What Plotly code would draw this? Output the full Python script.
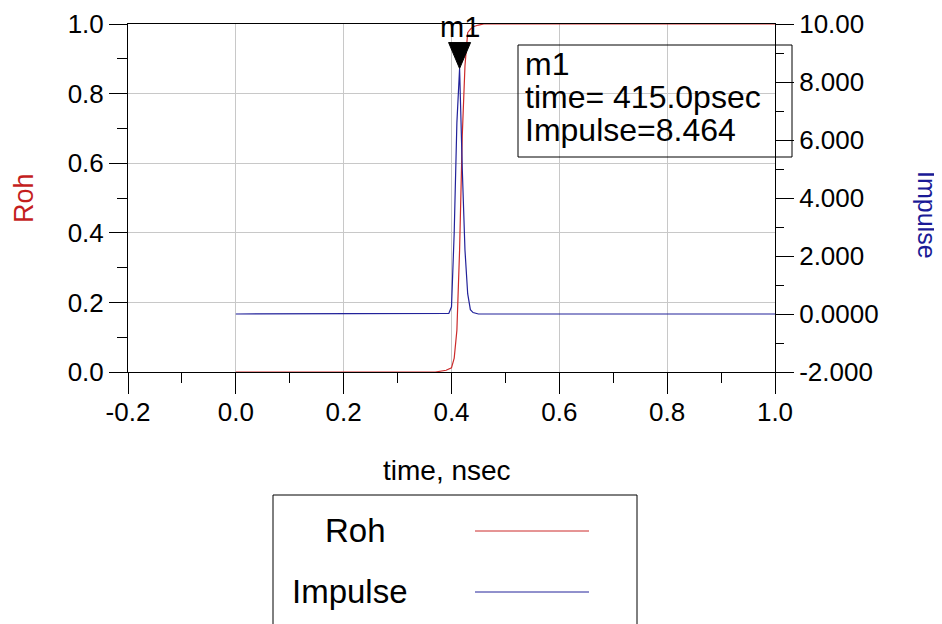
import plotly.graph_objects as go

# ---- data ----
roh_time_ns = [0.000, 0.370, 0.390, 0.400, 0.405, 0.410, 0.415, 0.420, 0.425, 0.430, 0.435, 0.440, 0.450, 0.460, 1.000]
roh_values = [0.000, 0.000, 0.005, 0.012, 0.040, 0.120, 0.350, 0.680, 0.880, 0.975, 0.985, 0.992, 0.997, 1.000, 1.000]

imp_time_ns = [0.000, 0.395, 0.400, 0.405, 0.410, 0.415, 0.420, 0.425, 0.430, 0.435, 0.440, 0.450, 1.000]
imp_values = [0.000, 0.020, 0.250, 2.800, 6.600, 8.464, 5.000, 2.200, 0.700, 0.150, 0.050, 0.000, 0.000]

marker_time_ns = 0.415
marker_impulse = 8.464

x_ticks = [-0.2, 0.0, 0.2, 0.4, 0.6, 0.8, 1.0]
x_tick_text = ["-0.2", "0.0", "0.2", "0.4", "0.6", "0.8", "1.0"]
y_ticks = [0.0, 0.2, 0.4, 0.6, 0.8, 1.0]
y_tick_text = ["0.0", "0.2", "0.4", "0.6", "0.8", "1.0"]
y2_ticks = [-2, 0, 2, 4, 6, 8, 10]
y2_tick_text = ["-2.000", "0.0000", "2.000", "4.000", "6.000", "8.000", "10.00"]

RED = "#cc2a2a"
BLUE = "#22229a"
FONT = "Liberation Sans, Arial, sans-serif"

fig = go.Figure()
fig.add_trace(go.Scatter(x=roh_time_ns, y=roh_values, mode="lines", name="Roh",
                         line=dict(color=RED, width=1.2), yaxis="y"))
fig.add_trace(go.Scatter(x=imp_time_ns, y=imp_values, mode="lines", name="Impulse",
                         line=dict(color=BLUE, width=1.2), yaxis="y2"))

# page body has an 8px margin, so the figure is drawn 8px in from the window edge
fig.update_layout(
    width=934, height=616,
    margin=dict(l=120, r=167, t=16, b=252),
    paper_bgcolor="white", plot_bgcolor="white",
    showlegend=False,
    font=dict(family=FONT, color="black", size=26),
    xaxis=dict(
        range=[-0.2, 1.0], tickvals=x_ticks, ticktext=x_tick_text, automargin=False,
        showline=True, linecolor="black", linewidth=1, mirror=True,
        ticks="outside", ticklen=21, tickcolor="black", tickwidth=1,
        ticklabelstandoff=-4,
        showgrid=True, gridcolor="#c8c8c8", gridwidth=1, zeroline=False,
        minor=dict(dtick=0.1, tick0=-0.2, ticks="outside", ticklen=10, tickcolor="black", showgrid=False),
        tickfont=dict(size=26, family=FONT, color="black"),
        layer="below traces",
    ),
    yaxis=dict(
        range=[0, 1], tickvals=y_ticks, ticktext=y_tick_text, automargin=False,
        showline=True, linecolor="black", linewidth=1,
        ticks="outside", ticklen=18, tickcolor="black", tickwidth=1,
        showgrid=True, gridcolor="#c8c8c8", gridwidth=1, zeroline=False,
        minor=dict(dtick=0.1, tick0=0, ticks="outside", ticklen=10, tickcolor="black", showgrid=False),
        tickfont=dict(size=26, family=FONT, color="black"),
        layer="below traces",
    ),
    yaxis2=dict(
        range=[-2, 10], overlaying="y", side="right", automargin=False,
        tickvals=y2_ticks, ticktext=y2_tick_text,
        showline=True, linecolor="black", linewidth=1,
        ticks="outside", ticklen=18, tickcolor="black", tickwidth=1,
        showgrid=False, zeroline=False,
        minor=dict(dtick=1, tick0=0, ticks="outside", ticklen=8, tickcolor="black", showgrid=False),
        tickfont=dict(size=26, family=FONT, color="black"),
        layer="below traces",
    ),
)

# helpers: screenshot pixel -> paper fraction (plot area spans x 128..775, y 24..372 on screen)
def px_x(px):
    return (px - 128) / 647.0

def px_y(py):
    return (372 - py) / 348.0

annotations = [
    dict(text="Roh", x=px_x(24), y=0.5, xref="paper", yref="paper", showarrow=False,
         textangle=-90, font=dict(size=27, color="#c41e1e", family=FONT), xanchor="center", yanchor="middle"),
    dict(text="Impulse", x=px_x(927), y=px_y(215), xref="paper", yref="paper", showarrow=False,
         textangle=90, font=dict(size=25, color="#1a1a96", family=FONT), xanchor="center", yanchor="middle"),
    dict(text="time, nsec", x=px_x(447), y=px_y(470), xref="paper", yref="paper", showarrow=False,
         font=dict(size=28, color="black", family=FONT), xanchor="center", yanchor="middle"),
    # marker label
    dict(text="m1", x=marker_time_ns, y=px_y(27), xref="x", yref="paper", showarrow=False,
         font=dict(size=29, color="black", family=FONT), xanchor="center", yanchor="middle"),
    # marker readout box
    dict(text="m1", x=px_x(523), y=px_y(64), xref="paper", yref="paper", showarrow=False,
         font=dict(size=32, color="black", family=FONT), xanchor="left", yanchor="middle"),
    dict(text="time= %.1fpsec" % (marker_time_ns * 1000), x=px_x(523), y=px_y(97), xref="paper", yref="paper",
         showarrow=False, font=dict(size=32, color="black", family=FONT), xanchor="left", yanchor="middle"),
    dict(text="Impulse=%.3f" % marker_impulse, x=px_x(523), y=px_y(130), xref="paper", yref="paper",
         showarrow=False, font=dict(size=32, color="black", family=FONT), xanchor="left", yanchor="middle"),
    # legend texts
    dict(text="Roh", x=px_x(355), y=px_y(530), xref="paper", yref="paper", showarrow=False,
         font=dict(size=33, color="black", family=FONT), xanchor="center", yanchor="middle"),
    dict(text="Impulse", x=px_x(350), y=px_y(591), xref="paper", yref="paper", showarrow=False,
         font=dict(size=33, color="black", family=FONT), xanchor="center", yanchor="middle"),
]

shapes = [
    # marker triangle (tip on the data point)
    dict(type="path", xref="x", yref="y2", xsizemode="pixel", ysizemode="pixel",
         xanchor=marker_time_ns, yanchor=marker_impulse,
         path="M -11 26 L 11 26 L 0 0 Z", fillcolor="black", line=dict(color="black", width=1)),
    # marker readout box
    dict(type="rect", xref="paper", yref="paper", x0=px_x(518), x1=px_x(792), y0=px_y(157), y1=px_y(45),
         line=dict(color="black", width=1), fillcolor="rgba(0,0,0,0)", layer="above"),
    # legend box
    dict(type="rect", xref="paper", yref="paper", x0=px_x(273), x1=px_x(637), y0=px_y(660), y1=px_y(495),
         line=dict(color="black", width=1), fillcolor="rgba(0,0,0,0)"),
    dict(type="line", xref="paper", yref="paper", x0=px_x(475), x1=px_x(589), y0=px_y(531), y1=px_y(531),
         line=dict(color=RED, width=1)),
    dict(type="line", xref="paper", yref="paper", x0=px_x(475), x1=px_x(589), y0=px_y(592), y1=px_y(592),
         line=dict(color=BLUE, width=1)),
]

fig.update_layout(annotations=annotations, shapes=shapes)
fig.write_html("out.html")
